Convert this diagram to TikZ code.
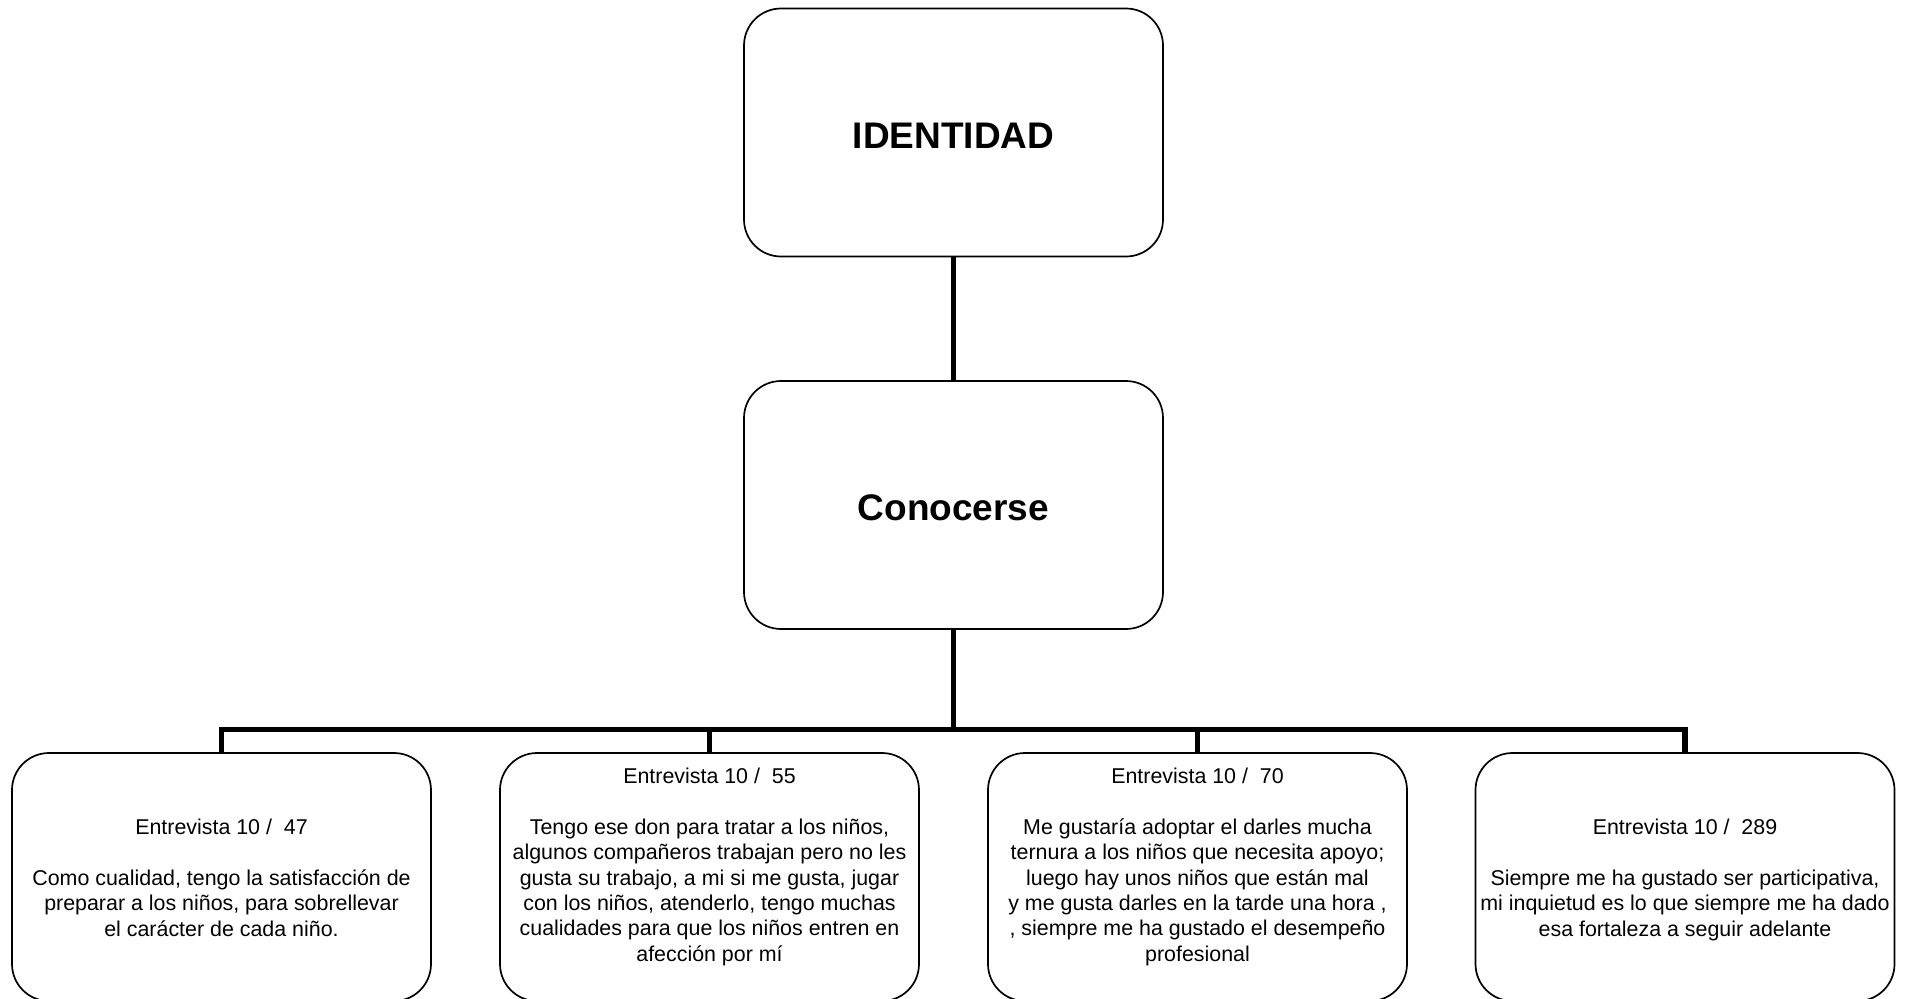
\documentclass[tikz,border=0pt]{standalone}
\usepackage{fontspec}
\setmainfont{Liberation Sans}
\tikzset{
  box/.style={draw=black, line width=1.7pt, rounded corners=37pt, minimum width=419pt, minimum height=248pt, inner sep=0pt, outer sep=0pt, fill=white},
  titletext/.style={font=\fontsize{37}{44}\selectfont\bfseries, text height=31.5pt, text depth=0pt},
  bodytext/.style={align=center, inner sep=0pt, anchor=north, font=\fontsize{21.4}{25.4}\selectfont},
  conn/.style={draw=black, line width=5.5pt, line join=miter}
}
\newcommand{\firstline}{\rule{0pt}{16pt}}
\begin{document}
\begin{tikzpicture}[x=1pt,y=-1pt]
\clip (0,0) rectangle (1907,999);
\fill[white] (0,0) rectangle (1907,999);
\node[box, titletext] (top) at (953.5,132.5) {IDENTIDAD};
\node[box, titletext] (mid) at (953.5,505) {Conocerse};
\node[box] (b1) at (221.5,877) {};
\node[box] (b2) at (709.5,877) {};
\node[box] (b3) at (1197.5,877) {};
\node[box] (b4) at (1685,877) {};
\coordinate (bus) at (953.5,729.5);
\draw[conn] (top.south) -- (mid.north);
\draw[conn] (mid.south) -- (bus);
\draw[conn] (b1.north) -- (b1.north |- bus) -- (b4.north |- bus) -- (b4.north);
\draw[conn] (b2.north) -- (b2.north |- bus);
\draw[conn] (b3.north) -- (b3.north |- bus);
\node[bodytext] (t1) at (221.5,818.3) {\firstline Entrevista 10 /\ \ 47\\[25.4pt]
Como cualidad, tengo la satisfacción de\\
preparar a los niños, para sobrellevar\\
el carácter de cada niño.};
\node[bodytext] (t2) at (709.5,767.3) {\firstline Entrevista 10 /\ \ 55\\[25.4pt]
Tengo ese don para tratar a los niños,\\
algunos compañeros trabajan pero no les\\
gusta su trabajo, a mi si me gusta, jugar\\
con los niños, atenderlo, tengo muchas\\
cualidades para que los niños entren en\\
afección por mí};
\node[bodytext] (t3) at (1197.5,767.3) {\firstline Entrevista 10 /\ \ 70\\[25.4pt]
Me gustaría adoptar el darles mucha\\
ternura a los niños que necesita apoyo;\\
luego hay unos niños que están mal\\
y me gusta darles en la tarde una hora ,\\
, siempre me ha gustado el desempeño\\
profesional};
\node[bodytext] (t4) at (1685,818.3) {\firstline Entrevista 10 /\ \ 289\\[25.4pt]
Siempre me ha gustado ser participativa,\\
mi inquietud es lo que siempre me ha dado\\
esa fortaleza a seguir adelante};
\end{tikzpicture}
\end{document}
